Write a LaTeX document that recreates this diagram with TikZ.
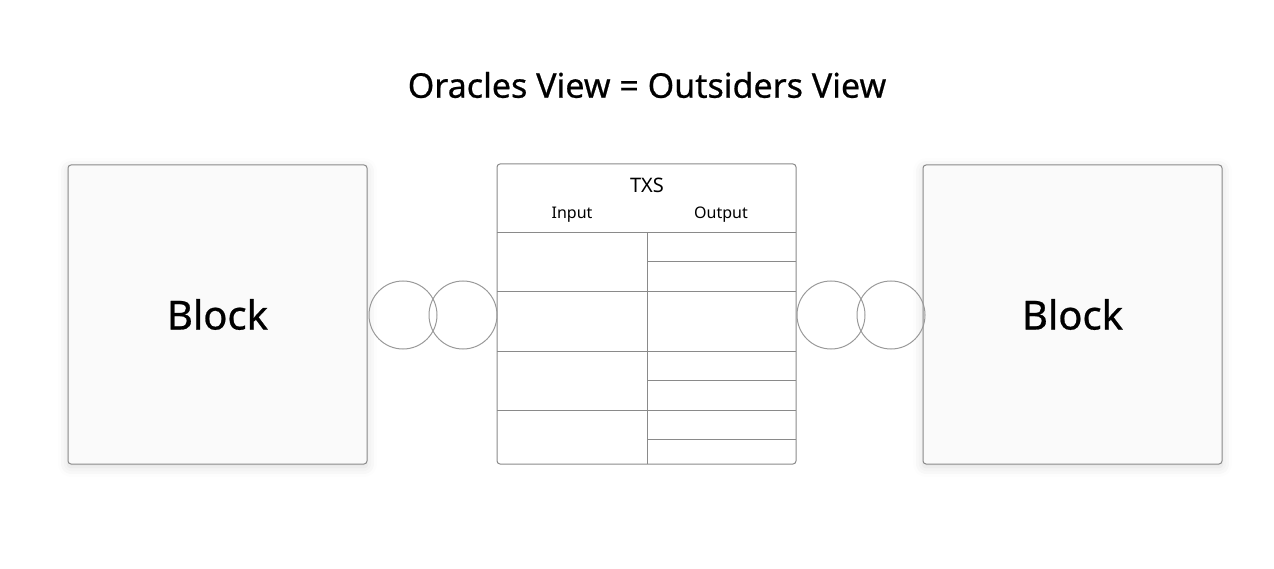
\documentclass[tikz,border=0pt]{standalone}
\usepackage{fontspec}
\setmainfont{Noto Sans}
\newfontfamily\heavier[FakeBold=0.6]{Noto Sans}
\usetikzlibrary{shadows.blur}
\definecolor{edge}{HTML}{8A8A8A}
\definecolor{ring}{HTML}{9A9A9A}
\definecolor{blockfill}{HTML}{FAFAFA}
\begin{document}
\begin{tikzpicture}[x=1pt,y=-1pt,
  blockbox/.style={draw=edge,line width=1pt,fill=blockfill,rounded corners=3pt,
    blur shadow={shadow xshift=0pt,shadow yshift=-3pt,shadow blur radius=10pt,shadow opacity=14},
    minimum width=299pt,minimum height=299pt,inner sep=0pt,font=\heavier\fontsize{40}{48}\selectfont},
  txsline/.style={draw=edge,line width=1pt},
  ringc/.style={draw=ring,line width=1pt,circle,minimum size=68pt,inner sep=0pt},
  hdr/.style={font=\fontsize{16}{19}\selectfont,inner sep=0pt,anchor=base}]
\useasboundingbox (0,0) rectangle (1274,569);
\node[font=\heavier\fontsize{34}{40}\selectfont] (title) at (647,85) {Oracles View = Outsiders View};
\node[blockbox] (lb) at (217.5,314.5) {Block};
\node[blockbox] (rb) at (1072.5,314.5) {Block};
\node[draw=edge,line width=1pt,fill=white,rounded corners=3pt,minimum width=299pt,minimum height=300pt,inner sep=0pt] (txs) at (646.5,314) {};
\node[font=\fontsize{20}{24}\selectfont,inner sep=0pt,anchor=base] (txst) at (647,193) {TXS};
\node[hdr] (inp) at (572,219) {Input};
\node[hdr] (outp) at (721,219) {Output};
\coordinate (hl) at (497,233); \coordinate (hr) at (796,233);
\draw[txsline] (hl) -- (hr);
\coordinate (mt) at (647,233); \coordinate (mb) at (647,464);
\draw[txsline] (mt) -- (mb);
\foreach \yy in {292,351,410}{\draw[txsline] (497,\yy) -- (796,\yy);}
\foreach \yy in {262,380,439}{\draw[txsline] (647,\yy) -- (796,\yy);}
\node[ringc] (c1) at (403,315) {};
\node[ringc] (c2) at (463,315) {};
\node[ringc] (c3) at (831,315) {};
\node[ringc] (c4) at (891,315) {};
\end{tikzpicture}
\end{document}
